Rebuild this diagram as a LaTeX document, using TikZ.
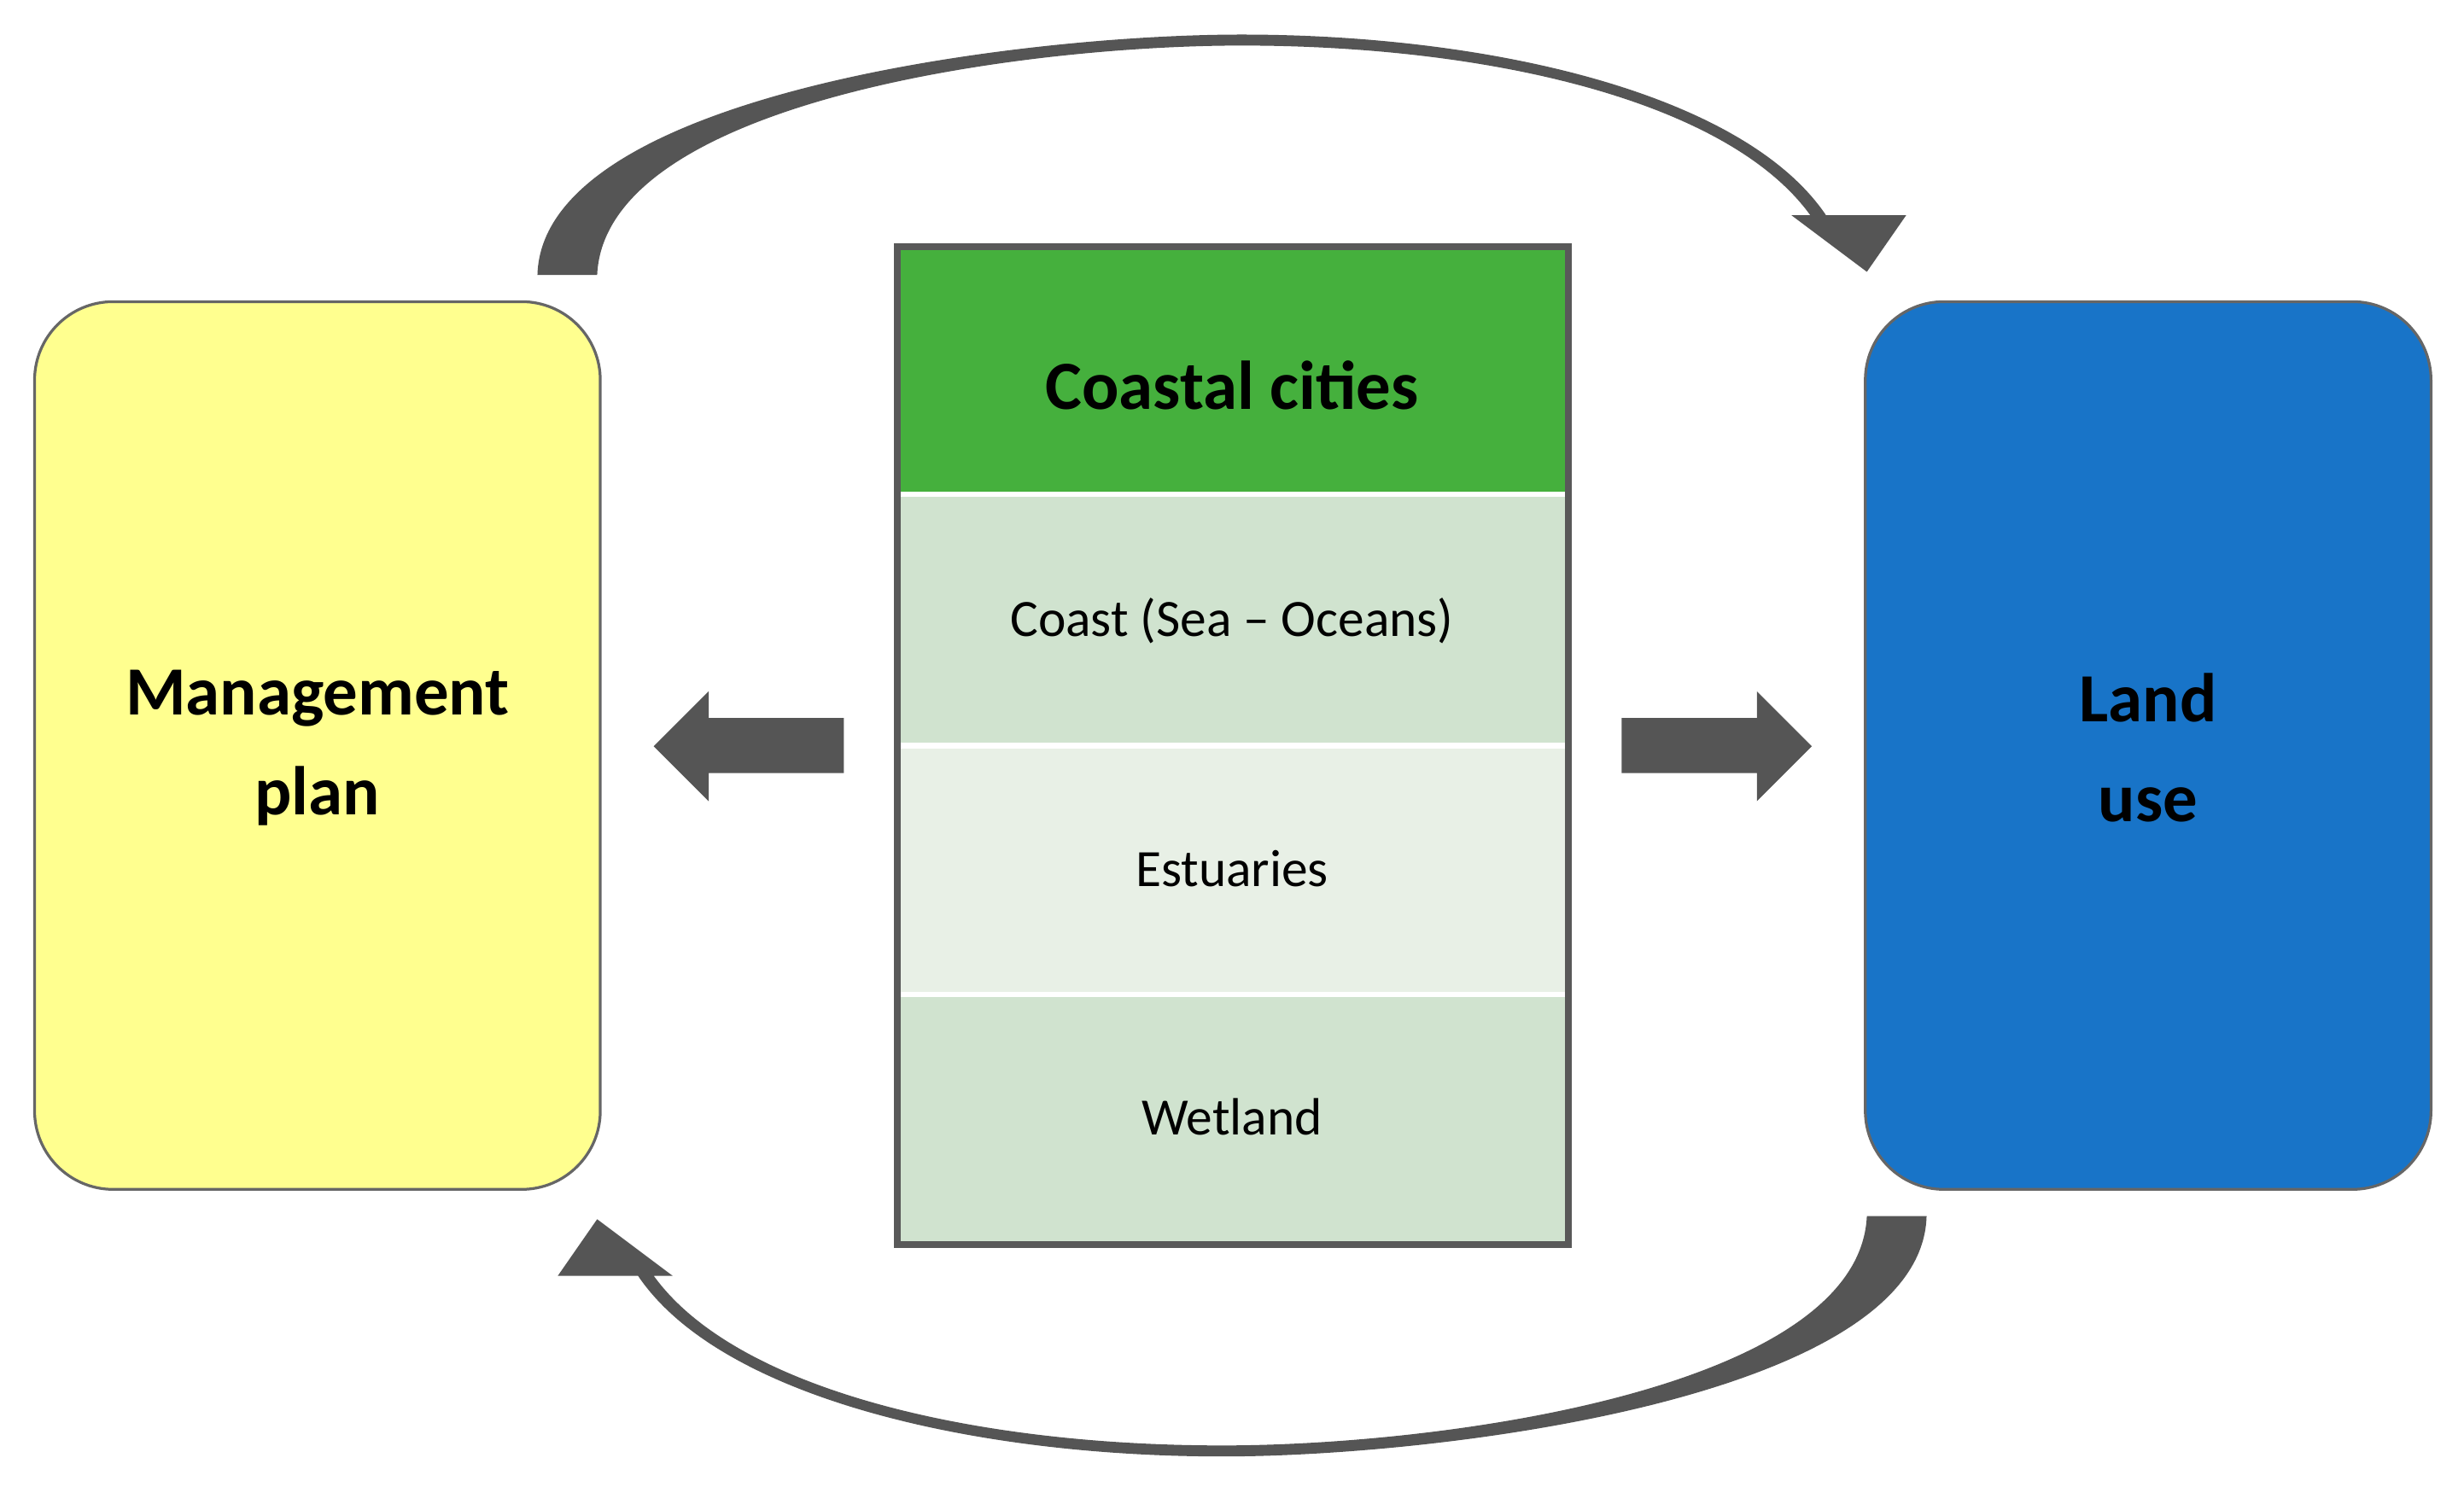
\documentclass[tikz,border=0pt]{standalone}
\usepackage{fontspec}
\setmainfont{Carlito}
\definecolor{yel}{HTML}{FFFF8F}
\definecolor{blu}{HTML}{1874C8}
\definecolor{grn}{HTML}{45B03D}
\definecolor{rowa}{HTML}{D0E3CF}
\definecolor{rowb}{HTML}{E8F0E6}
\definecolor{arr}{HTML}{555555}
\begin{document}
\begin{tikzpicture}[x=0.02cm,y=-0.02cm,
 side/.style={draw=gray!80!black,line width=1pt,rounded corners=1cm},
 big/.style={font=\fontsize{25}{36}\selectfont\bfseries,align=center},
 row/.style={font=\fontsize{19}{23}\selectfont},
 blk/.style={fill=arr}]
\useasboundingbox (0,0) rectangle (1568,946);
\path[side,fill=yel] (22,192) rectangle (382,757);
\path[side,fill=blu] (1187,192) rectangle (1547,757);
\node[big] (mp) at (202,476) {Management\\plan};
\node[big] (lu) at (1367,476) {Land\\use};
\fill[grn] (571,157) rectangle (998,313);
\fill[rowa] (571,316) rectangle (998,473);
\fill[rowb] (571,476) rectangle (998,632);
\fill[rowa] (571,634) rectangle (998,792);
\draw[white,line width=2pt] (573,314.5)--(996,314.5) (573,474.5)--(996,474.5) (573,633)--(996,633);
\draw[gray!70!black,line width=2.5pt] (571,157) rectangle (998,792);
\node[big] (cc) at (784,245) {Coastal cities};
\node[row] (co) at (784,395) {Coast (Sea – Oceans)};
\node[row] (es) at (784,553) {Estuaries};
\node[row] (we) at (784,711) {Wetland};
\fill[blk] (537,457)--(451,457)--(451,440)--(416,475)--(451,510)--(451,492)--(537,492)--cycle;
\fill[blk] (1032,457)--(1118,457)--(1118,440)--(1153,475)--(1118,510)--(1118,492)--(1032,492)--cycle;
\def\carrow{(342,175) .. controls (345,60) and (650,22) .. (790,22) .. controls (950,22) and (1110,60) .. (1162,137) -- (1213,137) -- (1188,173) -- (1140,137) -- (1152,137) .. controls (1100,65) and (950,29) .. (790,29) .. controls (650,29) and (385,65) .. (380,175) -- cycle}
\fill[blk] \carrow;
\fill[blk,rotate around={180:(784,474.5)}] \carrow;
\end{tikzpicture}
\end{document}
